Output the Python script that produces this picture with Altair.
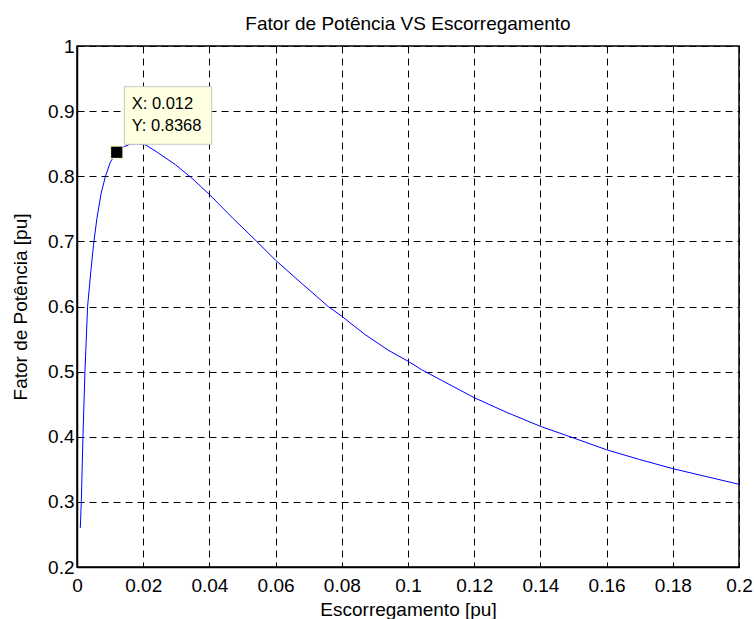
import altair as alt
import pandas as pd

# Slip (pu) and the corresponding power factor (pu)
slip = [0.001, 0.0013, 0.0018, 0.0024, 0.0032, 0.0042, 0.005, 0.006, 0.0073, 0.0086,
        0.0101, 0.012, 0.014, 0.016, 0.018, 0.0208, 0.0242, 0.0297, 0.0347, 0.04,
        0.047, 0.0543, 0.06, 0.068, 0.0759, 0.08, 0.087, 0.094, 0.1, 0.1041,
        0.11, 0.12, 0.13, 0.14, 0.149, 0.16, 0.17, 0.18, 0.19, 0.2]
power_factor = [0.26, 0.30, 0.40, 0.50, 0.60, 0.655, 0.695, 0.735, 0.774, 0.800,
                0.822, 0.8368, 0.845, 0.849, 0.850, 0.848, 0.837, 0.818, 0.797, 0.772,
                0.736, 0.700, 0.671, 0.635, 0.600, 0.585, 0.557, 0.533, 0.516, 0.503,
                0.487, 0.460, 0.437, 0.416, 0.400, 0.380, 0.365, 0.351, 0.339, 0.327]

# Data tip
tip_x = 0.012
tip_y = 0.8368

x_ticks = [0, 0.02, 0.04, 0.06, 0.08, 0.1, 0.12, 0.14, 0.16, 0.18, 0.2]
y_ticks = [0.2, 0.3, 0.4, 0.5, 0.6, 0.7, 0.8, 0.9, 1.0]

FONT = "Liberation Sans"

curve = pd.DataFrame({"s": slip, "pf": power_factor})
tip = pd.DataFrame({"s": [tip_x], "pf": [tip_y],
                    "lx": [f"X: {tip_x}"], "ly": [f"Y: {tip_y}"]})

x_scale = alt.Scale(domain=[0, 0.2], nice=False, zero=False)
y_scale = alt.Scale(domain=[0.2, 1.0], nice=False, zero=False)

x_axis = alt.Axis(values=x_ticks, format="~g", title="Escorregamento [pu]",
                  labelFont=FONT, labelFontSize=19, labelColor="black",
                  labelFlush=False, labelOverlap=False, labelBaseline="alphabetic",
                  labelPadding=24, tickSize=0, ticks=False,
                  domain=True, domainColor="black", domainWidth=1.5,
                  grid=True, gridColor="black", gridDash=[7, 5], gridWidth=1, gridOpacity=1,
                  titleFont=FONT, titleFontSize=19, titleFontWeight="normal",
                  titleColor="black", titleBaseline="alphabetic", titleY=48, titleX=331)
y_axis = alt.Axis(values=y_ticks, format="~g", title="Fator de Potência [pu]",
                  labelFont=FONT, labelFontSize=19, labelColor="black",
                  labelFlush=False, labelOverlap=False, labelPadding=3,
                  tickSize=0, ticks=False,
                  domain=True, domainColor="black", domainWidth=1.5,
                  grid=True, gridColor="black", gridDash=[7, 5], gridWidth=1, gridOpacity=1,
                  titleFont=FONT, titleFontSize=19, titleFontWeight="normal",
                  titleColor="black", titleBaseline="alphabetic", titleAngle=270,
                  titleX=-51, titleY=260.5, titleAlign="center")

line = alt.Chart(curve).mark_line(color="#0000FF", strokeWidth=1, clip=True).encode(
    x=alt.X("s:Q", scale=x_scale, axis=x_axis),
    y=alt.Y("pf:Q", scale=y_scale, axis=y_axis),
)

tip_box = alt.Chart(tip).mark_rect(
    fill="#FFFFE1", stroke="#C8C8C0", strokeWidth=1,
    xOffset=7.6, x2Offset=95, yOffset=-65.6, y2Offset=-8,
).encode(x="s:Q", x2="s:Q", y="pf:Q", y2="pf:Q")

tip_x_text = alt.Chart(tip).mark_text(
    align="left", baseline="alphabetic", dx=15, dy=-43.3,
    font=FONT, fontSize=16.5, color="black",
).encode(x="s:Q", y="pf:Q", text="lx:N")

tip_y_text = alt.Chart(tip).mark_text(
    align="left", baseline="alphabetic", dx=15, dy=-21.3,
    font=FONT, fontSize=16.5, color="black",
).encode(x="s:Q", y="pf:Q", text="ly:N")

tip_halo = alt.Chart(tip).mark_square(size=180, color="#F5F2C8", opacity=1).encode(
    x="s:Q", y="pf:Q")
tip_marker = alt.Chart(tip).mark_square(size=125, color="black", opacity=1).encode(
    x="s:Q", y="pf:Q")

chart = alt.layer(
    line, tip_box, tip_x_text, tip_y_text, tip_halo, tip_marker
).properties(
    width=662,
    height=521,
    title=alt.TitleParams("Fator de Potência VS Escorregamento", font=FONT,
                          fontSize=19, fontWeight="normal", color="black",
                          anchor="middle", baseline="alphabetic", offset=17.5, dy=29),
    autosize=alt.AutoSizeParams(type="none"),
    padding={"left": 77, "top": 46, "right": 15, "bottom": 52},
    background="white",
).configure_view(stroke="black", strokeWidth=1.5)

chart.save("out.html", embed_options={"renderer": "svg", "actions": False})
